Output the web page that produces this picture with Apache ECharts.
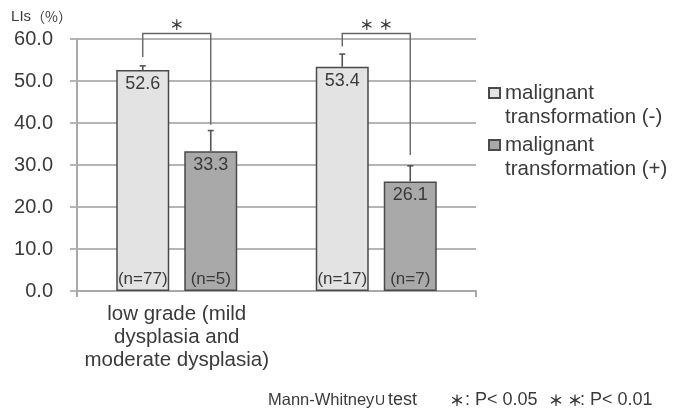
<!DOCTYPE html>
<html>
<head>
<meta charset="utf-8">
<script src="https://cdn.jsdelivr.net/npm/echarts@6/dist/echarts.min.js"></script>
<style>html,body{margin:0;padding:0;background:#fff}#c{width:678px;height:415px}</style>
</head>
<body>
<div id="c"></div>
<script>
// ---- data ----
const categories = ['low grade (mild\ndysplasia and\nmoderate dysplasia)', 'high grade (severe\ndysplasia)'];
const seriesNames = ['malignant\ntransformation (-)', 'malignant\ntransformation (+)'];
const negValues = [52.6, 53.4];
const posValues = [33.3, 26.1];
const negErr = [1.0, 3.0];
const posErr = [4.9, 3.7];
const negN = ['(n=77)', '(n=17)'];
const posN = ['(n=5)', '(n=7)'];
const bracketTop = [61.3, 61.3];
const bracketLeftEnd = [55.7, 58.2];
const bracketRightEnd = [39.6, 32.4];
const sigMarks = [['＊'], ['＊', '＊']];
const footnoteParts = ['Mann-Whitney', 'U', 'test', '＊', ': P< 0.05', '＊', '＊', ': P< 0.01'];

// ---- presentation ----
const FONT = '"Liberation Sans", Arial, sans-serif';
const CJK = '"Noto Sans CJK JP", sans-serif';
const BAR_W = 53, GAP = 15, OFF = (BAR_W + GAP) / 2;
const INK = '#3a3a3a';

const chart = echarts.init(document.getElementById('c'));

function annot(params, api) {
  const i = api.value(0);
  const children = [];
  const bars = [
    { v: negValues[i], e: negErr[i], n: negN[i], dx: -OFF },
    { v: posValues[i], e: posErr[i], n: posN[i], dx: OFF }
  ];
  bars.forEach(b => {
    const top = api.coord([i, b.v]);
    const eTop = api.coord([i, b.v + b.e]);
    const base = api.coord([i, 0]);
    const x = top[0] + b.dx;
    children.push({ type: 'line', shape: { x1: x, y1: top[1], x2: x, y2: eTop[1] }, style: { stroke: '#555', lineWidth: 1.6 } });
    children.push({ type: 'line', shape: { x1: x - 3, y1: eTop[1], x2: x + 3, y2: eTop[1] }, style: { stroke: '#555', lineWidth: 1.6 } });
    children.push({ type: 'text', x: x, y: top[1] + 5, style: { text: b.v.toFixed(1), font: '18px ' + FONT, fill: INK, align: 'center', verticalAlign: 'top' } });
    children.push({ type: 'text', x: x, y: base[1] - 3, style: { text: b.n, font: '17px ' + FONT, fill: INK, align: 'center', verticalAlign: 'bottom' } });
  });
  const pt = api.coord([i, bracketTop[i]]);
  const pl = api.coord([i, bracketLeftEnd[i]]);
  const pr = api.coord([i, bracketRightEnd[i]]);
  const xl = pt[0] - OFF, xr = pt[0] + OFF;
  children.push({ type: 'polyline', shape: { points: [[xl, pl[1]], [xl, pt[1]], [xr, pt[1]], [xr, pr[1]]] }, style: { stroke: '#666', lineWidth: 1.4, fill: null } });
  const marks = sigMarks[i];
  marks.forEach((m, k) => {
    const sx = pt[0] + (k - (marks.length - 1) / 2) * 19;
    children.push({ type: 'text', x: sx, y: pt[1] - 9, style: { text: m, font: 'bold 14px ' + CJK, fill: INK, align: 'center', verticalAlign: 'middle' } });
  });
  return { type: 'group', children: children };
}

const footX = [268, 375, 388, 457, 465, 556, 575, 580];
const footGraphics = footnoteParts.map((t, k) => {
  const star = t === '＊';
  let font = '18px ' + FONT;
  if (star) font = 'bold 15px ' + CJK;
  else if (t === 'U') font = '14px ' + FONT;
  else if (k === 0) font = '16.5px ' + FONT;
  return {
    type: 'text', x: footX[k], y: t === 'U' ? 401.5 : 400,
    style: { text: t, font: font, fill: INK, align: star ? 'center' : 'left', verticalAlign: 'middle' }
  };
});

chart.setOption({
  animation: false,
  textStyle: { fontFamily: FONT },
  grid: { left: 77, right: 202, top: 39, bottom: 124 },
  legend: {
    orient: 'vertical', left: 483, top: 52, itemWidth: 11, itemHeight: 10, itemGap: -20,
    icon: 'rect',
    formatter: n => '\n' + n,
    textStyle: { fontSize: 20.5, color: INK, lineHeight: 24, fontFamily: FONT },
    data: seriesNames
  },
  xAxis: {
    type: 'category', data: categories,
    axisLine: { lineStyle: { color: '#a8a8a8', width: 2 } },
    axisTick: { show: true, length: 6, lineStyle: { color: '#a8a8a8', width: 2 } },
    axisLabel: { fontSize: 20.5, color: INK, lineHeight: 23, margin: 12, fontFamily: FONT }
  },
  yAxis: {
    type: 'value', min: 0, max: 60, interval: 10,
    name: '{a|LIs}{b|（%）}', nameLocation: 'end', nameGap: 15,
    nameTextStyle: { color: INK, align: 'right', padding: [0, 5, 0, 0],
      rich: { a: { fontSize: 15, fontFamily: FONT, color: INK }, b: { fontSize: 14, fontFamily: CJK, color: INK } } },
    axisLine: { show: true, lineStyle: { color: '#a8a8a8', width: 2 } },
    axisTick: { show: true, length: 7, lineStyle: { color: '#b4b4b4', width: 2 } },
    splitLine: { lineStyle: { color: '#b4b4b4', width: 2 } },
    axisLabel: { fontSize: 20, color: INK, margin: 24, formatter: v => v.toFixed(1) }
  },
  series: [
    { name: seriesNames[0], type: 'bar', data: negValues, barWidth: BAR_W, barGap: (GAP / BAR_W * 100) + '%',
      itemStyle: { color: '#e3e3e3', borderColor: '#4a4a4a', borderWidth: 1.5 } },
    { name: seriesNames[1], type: 'bar', data: posValues, barWidth: BAR_W, barGap: (GAP / BAR_W * 100) + '%',
      itemStyle: { color: '#a9a9a9', borderColor: '#4a4a4a', borderWidth: 1.5 } },
    { type: 'custom', data: categories.map((c, i) => [i]), renderItem: annot, clip: false, z: 5, silent: true }
  ],
  graphic: footGraphics
});
</script>
</body>
</html>
